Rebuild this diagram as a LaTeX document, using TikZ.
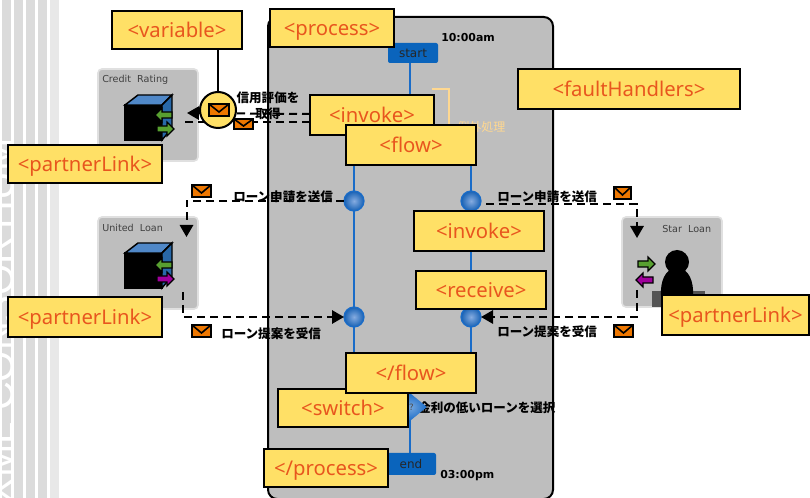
\documentclass[tikz,border=0pt]{standalone}
\usepackage{fontspec}
\usetikzlibrary{arrows.meta,shapes.geometric,calc}
\setmainfont{Noto Sans}
\newfontfamily\jpf{Noto Sans CJK JP}
\newfontfamily\vdf{DejaVu Sans}
\newfontfamily\lsf{Liberation Sans}
\definecolor{tagfill}{HTML}{FFE066}
\definecolor{tagtext}{HTML}{E8561E}
\definecolor{flowblue}{HTML}{1A6CC8}
\definecolor{boxblue}{HTML}{0A64BC}
\definecolor{panelgrey}{HTML}{BEBEBE}
\definecolor{mailorange}{HTML}{EE7700}
\definecolor{faultc}{HTML}{FFD890}
\definecolor{arrgreen}{HTML}{58A030}
\definecolor{arrmag}{HTML}{A0009C}
\definecolor{cubetop}{HTML}{5088C8}
\definecolor{cubeside}{HTML}{2868A8}
\definecolor{ballin}{HTML}{86ACE0}
\pgfdeclarelayer{base}
\pgfdeclarelayer{lines}
\pgfdeclarelayer{front}
\pgfsetlayers{base,lines,main,front}
\tikzset{
 tagbox/.style={draw=black,fill=tagfill,line width=1.5pt,text=tagtext,font=\fontsize{15.2}{18}\selectfont,inner sep=0pt,outer sep=0pt},
 panel/.style={fill=panelgrey,draw=black!12,line width=1.2pt,rounded corners=3pt},
 panelname/.style={font=\vdf\fontsize{7.2}{8}\selectfont,text=black!75,inner sep=0pt},
 msg/.style={draw=black,line width=1.5pt,dash pattern=on 6pt off 3.75pt},
 msgtip/.style={-{Triangle[length=9pt,width=10pt]}},
 flowline/.style={draw=flowblue,line width=1.7pt},
 jplabel/.style={font=\jpf\bfseries\fontsize{9.4}{11}\selectfont,inner sep=0pt,text=black},
 timelabel/.style={font=\vdf\bfseries\fontsize{8.2}{10}\selectfont,inner sep=0pt,text=black},
 stepball/.style={circle,draw=flowblue,line width=.9pt,minimum size=15pt,inner sep=0pt,inner color=ballin,outer color=flowblue!90!black,outer sep=0pt},
 mailbox/.style={draw=black,fill=mailorange,line width=1.5pt},
 blocklabel/.style={rounded corners=1.5pt,fill=boxblue,inner sep=0pt,font=\vdf\fontsize{9}{10}\selectfont,text=black!85}
}
\newcommand{\tagnode}[6]{\node[tagbox,minimum width=#4*.75pt,minimum height=#5*.75pt] (#1) at (#2,#3) {\raisebox{-6pt}[0pt][0pt]{#6}};}
\newcommand{\mailicon}[4]{%
 \path[mailbox] (#1,#2) rectangle (#3,#4);
 \draw[black,line width=1.2pt] (#1,#2) -- ({(#1+#3)/2},{(#2+#4)/2+2}) -- (#3,#2);}
\newcommand{\rightarr}[3]{\path[draw=black,fill=#3,line width=.9pt,shift={(#1,#2)}] (-8,-3) -- (2,-3) -- (2,-7) -- (9,0) -- (2,7) -- (2,3) -- (-8,3) -- cycle;}
\newcommand{\leftarr}[3]{\path[draw=black,fill=#3,line width=.9pt,shift={(#1,#2)}] (8,-3) -- (-2,-3) -- (-2,-7) -- (-9,0) -- (-2,7) -- (-2,3) -- (8,3) -- cycle;}
\newcommand{\cubeicon}[3]{%
 \begin{scope}[shift={(0,#1)},line width=1.1pt]
 \path[draw=black,fill=black] (125,10) rectangle (162,45);
 \path[draw=black,fill=cubetop] (125,10) -- (138,0) -- (172,0) -- (162,10) -- cycle;
 \path[draw=black,fill=cubeside] (162,10) -- (172,0) -- (172,33) -- (162,45) -- cycle;
 \end{scope}
 \leftarr{164}{#2}{arrgreen}
 \rightarr{165}{#2+14}{#3}}
\begin{document}
\begin{tikzpicture}[x=.75pt,y=-.75pt]
\useasboundingbox (0,0) rectangle (810,498);
\begin{pgfonlayer}{base}
\fill[white] (0,0) rectangle (810,498);
\fill[black!14] (2,0) rectangle (11,498);
\fill[black!14] (14,0) rectangle (23,498);
\fill[black!14] (26,0) rectangle (35,498);
\fill[black!14] (38,0) rectangle (47,498);
\fill[black!9] (50,0) rectangle (59,498);
\begin{scope}
\clip (0,0) rectangle (14,498);
\node[rotate=90,anchor=base east,inner sep=0pt,text=white,font=\lsf\fontsize{30}{32}\selectfont] (wm) at (13,138) {XML CONSORTIUM};
\end{scope}
\path[fill=panelgrey,draw=black,line width=1.5pt,rounded corners=7pt] (268,17) rectangle (553,499);
\path[panel] (98,69) rectangle (198,161);
\path[panel] (98,217) rectangle (198,309);
\path[panel] (622,217) rectangle (722,307);
\end{pgfonlayer}
% yellow tags on top
\begin{pgfonlayer}{front}
\tagnode{variable}{177}{30}{130}{38}{<variable>}
\tagnode{processt}{332}{28}{124}{38}{<process>}
\tagnode{fault}{629}{89}{222}{40}{<faultHandlers>}
\tagnode{invokea}{372}{115}{124}{40}{<invoke>}
\tagnode{flowt}{411}{145}{130}{40}{<flow>}
\tagnode{plinka}{85}{164}{154}{38}{<partnerLink>}
\tagnode{invokeb}{479}{231}{130}{40}{<invoke>}
\tagnode{receive}{481}{290}{130}{38}{<receive>}
\tagnode{plinkb}{85}{317}{154}{40}{<partnerLink>}
\tagnode{plinkc}{735.5}{315}{147}{40}{<partnerLink>}
\tagnode{switcht}{343}{408}{130}{38}{<switch>}
\tagnode{closeflow}{411}{373}{130}{40}{</flow>}
\tagnode{closeproc}{326}{468}{124}{38}{</process>}
\end{pgfonlayer}
\node[panelname,anchor=west] (n1) at (102,80) {Credit\ \ Rating};
\node[panelname,anchor=west] (n2) at (102,228) {United\ \ Loan};
\node[panelname,anchor=west] (n3) at (662,229) {Star\ \ Loan};
% icons
\cubeicon{95}{115}{arrgreen}
\cubeicon{243}{265}{arrmag}
\fill[black!67] (652,291) rectangle (705,307);
\fill[black] (661,296) .. controls (660,282) and (665,268) .. (677,268) .. controls (689,268) and (694,282) .. (693,296) -- cycle;
\node[circle,fill=black,minimum size=18pt,inner sep=0pt] (head) at (677,262) {};
\rightarr{646}{264}{arrgreen}
\leftarr{645}{280}{arrmag}
% fault bracket
\draw[faultc,line width=1.2pt] (432,89) -- (449,89) -- (449,125);
\node[font=\jpf\fontsize{9}{11}\selectfont,text=faultc,inner sep=0pt,anchor=west] (fh) at (457,127) {例外処理};
% flow nodes
\node[blocklabel,minimum width=37.5pt,minimum height=15pt] (start) at (413,53) {start};
\node[blocklabel,minimum width=37.5pt,minimum height=16.5pt] (endb) at (411,464) {end};
\node[stepball] (fl1) at (354,201) {};
\node[stepball] (fl2) at (354,317) {};
\node[stepball] (fr1) at (471,201) {};
\node[stepball] (fr2) at (471,317) {};
\coordinate (swc) at (410,407);
\coordinate (crin) at (187,113);
\coordinate (crout) at (185,122);
\coordinate (ulin) at (186.5,237);
\coordinate (ulout) at (183,292);
\coordinate (slin) at (637,238);
\coordinate (slout) at (637,290);
\begin{pgfonlayer}{lines}
\draw[flowline] ([xshift=-2.25pt]start.south) -- ([xshift=-2.25pt]start.south |- invokea.north);
\draw[flowline] (fl1 |- flowt.south) -- (fl1) -- (fl2) -- (fl2 |- closeflow.north);
\draw[flowline] (fr1 |- flowt.south) -- (fr1) -- (fr2) -- (fr2 |- closeflow.north);
\draw[flowline] (swc |- closeflow.south) -- (swc) -- (swc |- endb.north);
\end{pgfonlayer}
% messages
\draw[msg,msgtip] ([yshift=.75pt]invokea.west) -- (crin);
\draw[msg] ([yshift=-5.25pt]invokea.west) -- (crout);
\draw[msg,msgtip] (fl1) -| (ulin);
\draw[msg,msgtip] (ulout) |- (fl2);
\draw[msg,msgtip] ([xshift=4pt,yshift=-2.25pt]fr1.east) -| (slin);
\draw[msg,msgtip] (slout) |- (fr2);
% envelopes
\mailicon{234}{119}{253}{129}
\mailicon{192}{185}{211}{197}
\mailicon{192}{325}{211}{337}
\mailicon{614}{187}{631}{199}
\mailicon{614}{325}{633}{337}
% text labels
\node[jplabel] (la) at (268,98) {信用評価を};
\node[jplabel] (lb) at (268,114) {取得};
\node[jplabel,anchor=west] (lc) at (233,197) {ローン申請を送信};
\node[jplabel,anchor=west] (ld) at (221,334) {ローン提案を受信};
\node[jplabel,anchor=west] (le) at (497,197) {ローン申請を送信};
\node[jplabel,anchor=west] (lf) at (497,332) {ローン提案を受信};
\node[jplabel,anchor=west] (lg) at (418,408) {金利の低いローンを選択};
\node[timelabel,anchor=west] (ta) at (441,38) {10:00am};
\node[timelabel,anchor=west] (tb) at (440,476) {03:00pm};
% switch diamond over its label
\node[diamond,minimum width=25.5pt,minimum height=21pt,inner sep=0pt,inner color=flowblue!60!white,outer color=flowblue,font=\vdf\fontsize{6.5}{7}\selectfont,text=black!70] (sw) at (swc) {\hspace*{2pt}?};
% variable bubble
\node[circle,draw=black,fill=tagfill,line width=1.5pt,minimum size=27pt,inner sep=0pt] (varc) at (218,110) {};
\draw[black,line width=1.5pt] (varc.north) -- (varc.north |- variable.south);
\mailicon{209}{104}{229}{116}
\end{tikzpicture}
\end{document}
